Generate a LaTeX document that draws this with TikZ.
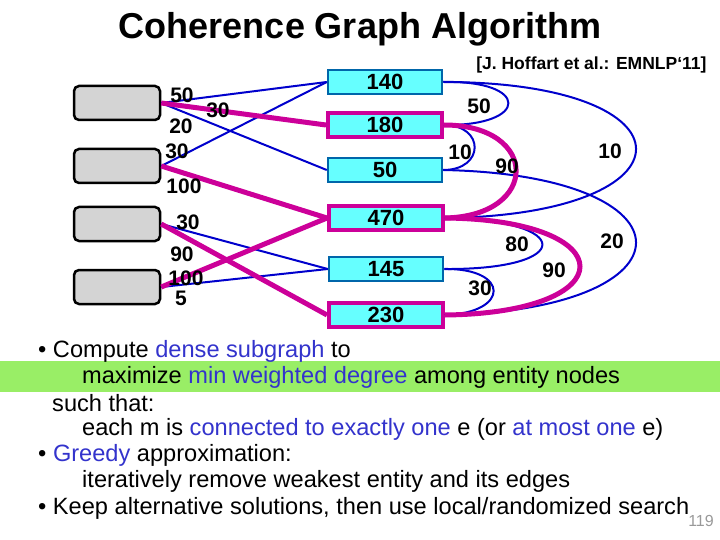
\documentclass[tikz,border=0pt]{standalone}
\usepackage{fontspec}
\setmainfont{Liberation Sans}
\definecolor{mag}{RGB}{204,0,153}
\definecolor{eblue}{RGB}{0,0,204}
\definecolor{cyanf}{RGB}{102,255,255}
\definecolor{ebord}{RGB}{0,102,170}
\definecolor{txtblue}{RGB}{51,51,204}
\definecolor{band}{RGB}{153,238,102}
\begin{document}
\begin{tikzpicture}[x=1pt,y=-1pt,
  mbox/.style={draw=black,line width=2.5pt,fill=black!17,rounded corners=5pt,minimum width=86pt,minimum height=34pt,inner sep=0},
  ebox/.style={draw=ebord,line width=2.5pt,fill=cyanf,minimum width=114pt,minimum height=24pt,inner sep=0,font=\fontsize{22}{22}\bfseries},
  esel/.style={ebox,draw=mag,line width=4pt},
  bl/.style={eblue,line width=2pt},
  mg/.style={mag,line width=5pt},
  lab/.style={font=\fontsize{21}{21}\bfseries,inner sep=0},
  body/.style={font=\fontsize{23.6}{23.6}\selectfont,anchor=west,inner sep=0}]
\useasboundingbox (0,0) rectangle (720,540);
\fill[band] (0,361) rectangle (720,392);
\node[font=\fontsize{36}{36}\bfseries] (title) at (360,29) {Coherence Graph Algorithm};
\node[font=\fontsize{17.5}{17.5}\bfseries,anchor=east] (cite) at (710,65) {[J. Hoffart et al.: EMNLP‘11]};
% mention boxes
\node[mbox] (m1) at (117,103) {};
\node[mbox] (m2) at (117,166) {};
\node[mbox] (m3) at (117,224) {};
\node[mbox] (m4) at (117,287) {};
% entity boxes
\node[ebox] (e1) at (385,82) {140};
\node[esel] (e2) at (385,125) {180};
\node[ebox] (e3) at (385,170) {50};
\node[esel] (e4) at (386,218) {470};
\node[ebox] (e5) at (386,269) {145};
\node[esel] (e6) at (386,315) {230};
% left edges
\draw[bl] (m1.east) -- (e1.west);
\draw[bl] (m1.east) -- (e3.west);
\draw[bl] (m2.east) -- (e1.west);
\draw[bl] (m3.east) -- (e5.west);
\draw[bl] (m4.east) -- (e5.west);
\draw[mg] (m1.east) -- (e2.west);
\draw[mg] (m2.east) -- (e4.west);
\draw[mg] (m3.east) -- (e6.west);
\draw[mg] (m4.east) -- (e4.west);
\node[lab] (l1) at (182,95) {50};
\node[lab] (l2) at (218,110) {30};
\node[lab] (l3) at (181,126) {20};
\node[lab] (l4) at (177,151) {30};
\node[lab] (l5) at (184,186) {100};
\node[lab] (l6) at (188,222) {30};
\node[lab] (l7) at (182,254) {90};
\node[lab] (l8) at (186,278) {100};
\node[lab] (l9) at (181,298) {5};
% right arcs
\draw[bl] (e1.east) .. controls (530,80) and (530,126) .. (e2.east);
\draw[bl] (e1.east) .. controls (700,82) and (700,215) .. (e4.east);
\draw[bl] (e2.east) .. controls (485,125) and (485,170) .. (e3.east);
\draw[bl] (e3.east) .. controls (700,175) and (700,310) .. (e6.east);
\draw[bl] (e4.east) .. controls (575,220) and (575,270) .. (e5.east);
\draw[bl] (e5.east) .. controls (510,268) and (510,313) .. (e6.east);
\draw[mg] (e2.east) .. controls (540,125) and (540,216) .. (e4.east);
\draw[mg] (e4.east) .. controls (625,220) and (625,313) .. (e6.east);
\node[lab] (r1) at (479,106) {50};
\node[lab] (r2) at (610,151) {10};
\node[lab] (r3) at (460,152) {10};
\node[lab] (r4) at (507,166) {90};
\node[lab] (r5) at (612,241) {20};
\node[lab] (r6) at (517,244) {80};
\node[lab] (r7) at (554,270) {90};
\node[lab] (r8) at (480,288) {30};
% text
\node[body] (t1) at (38,351) {• Compute \textcolor{txtblue}{dense subgraph} to};
\node[body] (t2) at (82,377) {maximize \textcolor{txtblue}{min weighted degree} among entity nodes};
\node[body] (t3) at (52,403) {such that:};
\node[body] (t4) at (82,429) {each m is \textcolor{txtblue}{connected to exactly one} e (or \textcolor{txtblue}{at most one} e)};
\node[body] (t5) at (38,455) {• \textcolor{txtblue}{Greedy} approximation:};
\node[body] (t6) at (82,481) {iteratively remove weakest entity and its edges};
\node[body] (t7) at (38,508) {• Keep alternative solutions, then use local/randomized search};
\node[font=\fontsize{16}{16}\selectfont,text=black!40] (pg) at (701,521) {119};
\end{tikzpicture}
\end{document}
